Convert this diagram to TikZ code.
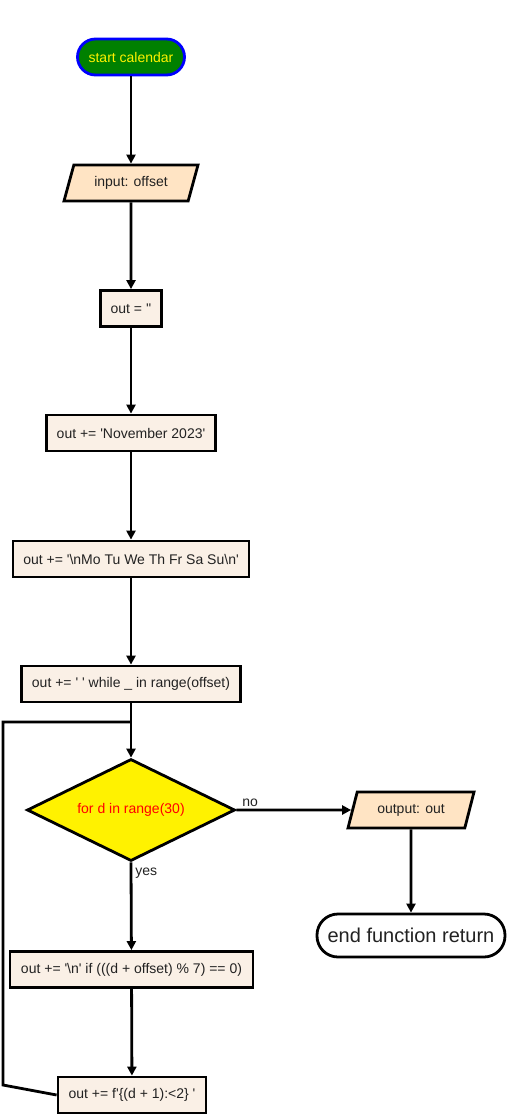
\documentclass[tikz,border=0pt]{standalone}
\usepackage{fontspec}
\setmainfont{Liberation Sans}[Ligatures=TeXOff]
\usetikzlibrary{shapes.geometric,arrows.meta}
\definecolor{linen}{HTML}{FAF0E6}
\definecolor{bisque}{HTML}{FFE4C4}
\definecolor{txt}{HTML}{222222}
\definecolor{startgreen}{HTML}{008000}
\begin{document}
\begin{tikzpicture}[x=1pt,y=-1pt,
  base/.style={line width=2.8pt, font=\fontsize{14}{16}\selectfont, text=txt, inner sep=2pt},
  procbox/.style={base, rectangle, draw=black, fill=linen, minimum height=36pt},
  iobox/.style={base, trapezium, trapezium left angle=60, trapezium right angle=120,
     trapezium stretches body=true, draw=black, fill=bisque, minimum height=36pt},
  termbox/.style={base, rectangle, rounded corners=18pt, minimum height=36pt},
  decbox/.style={base, diamond, draw=black, fill=yellow, text=red, aspect=2,
     minimum width=208pt, minimum height=102pt},
  conn/.style={line width=2.8pt, draw=black, -{Triangle[length=9pt,width=9pt]}},
  plain/.style={line width=2.8pt, draw=black},
  lbl/.style={font=\fontsize{14}{16}\selectfont, text=txt, inner sep=1pt}
]
\useasboundingbox (0,0) rectangle (508,1116);
\fill[white] (0,0) rectangle (508,1116);

\node[termbox, draw=blue, fill=startgreen, text=yellow, minimum width=107pt] (start) at (131,57) {start calendar};
\node[iobox, minimum width=134pt] (inp) at (131,183) {input: offset};
\node[procbox, minimum width=61pt] (o1) at (131,308.5) {out = ''};
\node[procbox, minimum width=169pt] (o2) at (131,433) {out += 'November 2023'};
\node[procbox, minimum width=236pt] (o3) at (131,559) {out += '\textbackslash nMo Tu We Th Fr Sa Su\textbackslash n'};
\node[procbox, minimum width=219pt] (o4) at (131,684) {out += ' ' while \_ in range(offset)};
\node[decbox] (dec) at (131,810) {for d in range(30)};
\node[iobox, minimum width=126pt] (outp) at (411,810) {output: out};
\node[termbox, draw=black, fill=white, minimum width=188pt, minimum height=43pt, rounded corners=21pt,
      font=\fontsize{20}{22}\selectfont] (end) at (411,935.5) {end function return};
\node[procbox, minimum width=243pt] (o5) at (131.5,969.5) {out += '\textbackslash n' if (((d + offset) \% 7) == 0)};
\node[procbox, minimum width=148pt] (o6) at (132,1095) {out += f'\{(d + 1):<2\} '};

\coordinate (lp1) at (3,1085);
\coordinate (lp2) at (3,722);
\coordinate (join) at (131,722);

\draw[conn] (start) -- (inp);
\draw[conn] (inp) -- (o1);
\draw[conn] (o1) -- (o2);
\draw[conn] (o2) -- (o3);
\draw[conn] (o3) -- (o4);
\draw[conn] (o4) -- (dec);
\draw[conn] (dec.east) -- node[lbl, pos=0.12, above, yshift=1pt] {no} (outp);
\draw[conn] (outp) -- (end);
\draw[conn] (dec.south) -- node[lbl, pos=0.12, right, xshift=2pt] {yes} (o5);
\draw[conn] (o5) -- (o6);
\draw[plain, line join=miter] (o6.west) -- (lp1) -- (lp2) -- (join);
\end{tikzpicture}
\end{document}
